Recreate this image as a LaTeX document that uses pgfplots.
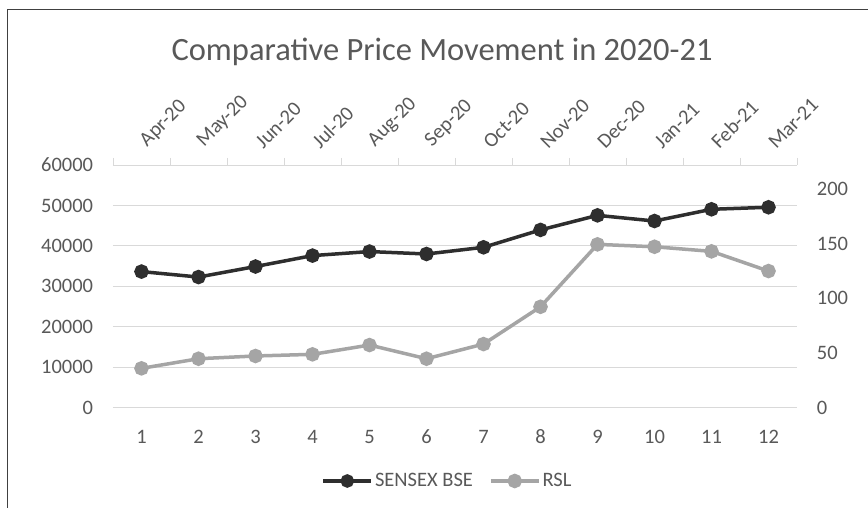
\documentclass[border=0pt]{standalone}
\usepackage{fontspec}
\setmainfont{Carlito}
\usepackage{pgfplots}
\pgfplotsset{compat=1.18}
\definecolor{txt}{HTML}{595959}
\definecolor{gridc}{HTML}{D9D9D9}
\definecolor{sensex}{HTML}{2E2E2E}
\definecolor{rsl}{HTML}{A5A5A5}
\definecolor{frame}{HTML}{404040}
\begin{document}
\begin{tikzpicture}
\useasboundingbox (0,0) rectangle (868pt,508pt);
\fill[white] (0,0) rectangle (868pt,508pt);
\draw[frame, line width=1.5pt] (7.5pt,0pt) -- (7.5pt,498.5pt) -- (868pt,498.5pt);
\node[anchor=base, font=\fontsize{32.5}{38}\selectfont, text=txt, inner sep=0pt] at (442pt,447pt) {Comparative Price Movement in 2020-21};
\begin{axis}[
  name=main,
  at={(113pt,100.3pt)}, anchor=south west,
  width=684pt, height=242.7pt, scale only axis,
  xmin=0.5, xmax=12.5, ymin=0, ymax=60000,
  xtick={1,2,3,4,5,6,7,8,9,10,11,12},
  xticklabels={1,2,3,4,5,6,7,8,9,10,11,12},
  ytick={0,10000,20000,30000,40000,50000,60000},
  scaled y ticks=false,
  axis line style={draw=none},
  major tick length=0pt,
  ymajorgrids, major grid style={gridc, line width=0.9pt},
  tick label style={font=\fontsize{20.5}{24}\selectfont, text=txt, inner sep=0pt},
  yticklabel style={anchor=east, xshift=-19.7pt},
  xticklabel style={anchor=north, yshift=-22pt},
  /pgf/number format/assume math mode=true,
  /pgf/number format/1000 sep={},
  clip=false,
]
\addplot[sensex, line width=3.5pt, mark=*, mark size=5.5pt, mark options={solid}] coordinates {
(1,33650) (2,32300) (3,34900) (4,37600) (5,38600) (6,38000)
(7,39650) (8,43950) (9,47550) (10,46150) (11,49050) (12,49550)
};
\end{axis}
\begin{axis}[
  at={(113pt,100.3pt)}, anchor=south west,
  width=684pt, height=242.7pt, scale only axis,
  xmin=0.5, xmax=12.5, ymin=0, ymax=222,
  axis x line*=top, axis y line*=right,
  x axis line style={gridc, line width=0.9pt, -},
  y axis line style={draw=none},
  xtick={1,2,3,4,5,6,7,8,9,10,11,12},
  xticklabels={Apr-20,May-20,Jun-20,Jul-20,Aug-20,Sep-20,Oct-20,Nov-20,Dec-20,Jan-21,Feb-21,Mar-21},
  minor xtick={0.5,1.5,2.5,3.5,4.5,5.5,6.5,7.5,8.5,9.5,10.5,11.5,12.5},
  major tick length=0pt, minor tick length=7pt, tick align=outside,
  minor tick style={gridc, line width=0.9pt},
  ytick={0,50,100,150,200},
  tick label style={font=\fontsize{20.5}{24}\selectfont, text=txt, inner sep=0pt},
  xticklabel style={xshift=8pt, yshift=15pt, rotate=45, anchor=south west},
  yticklabel style={anchor=west, xshift=19.7pt},
  /pgf/number format/assume math mode=true,
  clip=false,
  legend columns=2,
  legend style={at={(0.489,-0.302)}, anchor=center, draw=none, fill=none,
    font=\fontsize{20.5}{24}\selectfont, text=txt,
    nodes={inner sep=2pt},
    /tikz/every even column/.append style={column sep=14pt}},
  legend image code/.code={\draw[mark repeat=2,mark phase=2,#1] plot coordinates {(0pt,0pt) (24pt,0pt) (48pt,0pt)};},
]
\addlegendimage{sensex, line width=3.5pt, mark=*, mark size=5pt, mark options={solid}}
\addplot[rsl, line width=3.5pt, mark=*, mark size=5.5pt, mark options={solid}] coordinates {
(1,36.0) (2,44.8) (3,47.3) (4,48.8) (5,57.3) (6,44.8)
(7,58.2) (8,92.3) (9,149.4) (10,147.2) (11,143.0) (12,125.0)
};
\legend{SENSEX BSE, RSL}
\end{axis}
\end{tikzpicture}
\end{document}
